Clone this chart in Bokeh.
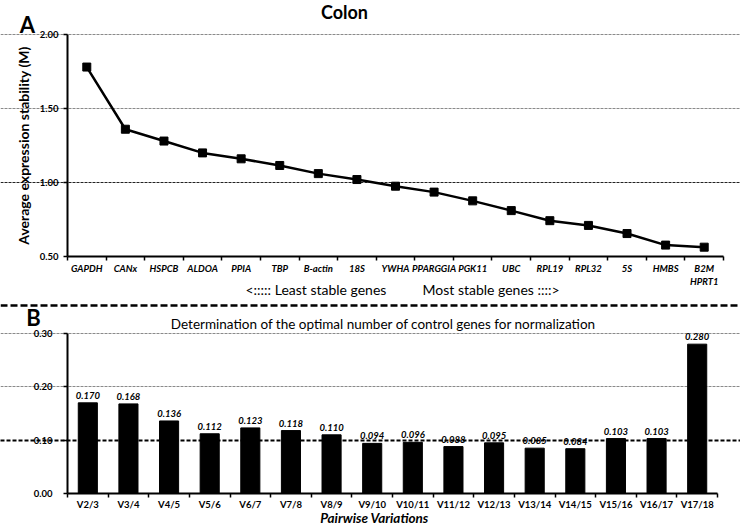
from bokeh.plotting import figure
from bokeh.models import (Range1d, FixedTicker, CustomJSTickFormatter, Span, Label,
                          ColumnDataSource, NumeralTickFormatter, Grid)
from bokeh.layouts import column
from bokeh.core.properties import value
from bokeh.embed import file_html
from bokeh.resources import INLINE

FONT = "Lato"

# ---- data ----
genes = ["GAPDH", "CANx", "HSPCB", "ALDOA", "PPIA", "TBP", "B-actin", "18S", "YWHA",
         "PPARGGIA", "PGK11", "UBC", "RPL19", "RPL32", "5S", "HMBS", "B2M\nHPRT1"]
stability = [1.78, 1.36, 1.28, 1.20, 1.16, 1.115, 1.06, 1.02, 0.975,
             0.935, 0.876, 0.81, 0.742, 0.71, 0.655, 0.577, 0.563]

pairs = ["V2/3", "V3/4", "V4/5", "V5/6", "V6/7", "V7/8", "V8/9", "V9/10", "V10/11",
         "V11/12", "V12/13", "V13/14", "V14/15", "V15/16", "V16/17", "V17/18"]
variation = [0.170, 0.168, 0.136, 0.112, 0.123, 0.118, 0.110, 0.094, 0.096,
             0.088, 0.095, 0.085, 0.084, 0.103, 0.103, 0.280]

top_yticks = [0.5, 1.0, 1.5, 2.0]
bot_yticks = [0.0, 0.1, 0.2, 0.3]

# ---- layout geometry (pixels) ----
W = 740
H1 = 300            # top panel height
H2 = 226            # bottom panel height
AX_LEFT = 67
T_RIGHT, T_TOP, T_BOT = 723, 34, 256
B_RIGHT, B_TOP, B_BOT = 717, 33, 193   # relative to bottom panel top


def style_axes(p, labels, ncat, yfix, xfix, ybounds):
    xa = p.xaxis[0]
    xa.fixed_location = xfix
    xa.bounds = (0, ncat)
    xa.ticker = FixedTicker(ticks=[i + 0.5 for i in range(ncat)],
                            minor_ticks=list(range(ncat + 1)))
    xa.formatter = CustomJSTickFormatter(args=dict(labels=labels),
                                         code="return labels[Math.floor(tick)] || '';")
    xa.major_tick_out = 0
    xa.major_tick_in = 0
    xa.minor_tick_out = 4
    xa.minor_tick_in = 0
    xa.minor_tick_line_color = "black"
    xa.minor_tick_line_width = 1.5
    xa.axis_line_color = "black"
    xa.axis_line_width = 2
    xa.major_label_text_font = FONT
    xa.major_label_text_color = "black"
    ya = p.yaxis[0]
    ya.fixed_location = yfix
    ya.bounds = ybounds
    ya.axis_line_width = 2
    ya.axis_line_color = "black"
    ya.major_tick_out = 4
    ya.major_tick_in = 0
    ya.minor_tick_line_color = None
    ya.major_tick_line_width = 1.5
    ya.major_label_text_font = FONT
    ya.major_label_text_font_style = "bold"
    ya.major_label_text_font_size = "9.5px"
    ya.major_label_text_color = "black"
    ya.formatter = NumeralTickFormatter(format="0.00")
    p.grid.visible = False
    p.outline_line_color = None


def lab(p, x, y, text, size, style="normal", align="center"):
    p.add_layout(Label(x=x, y=y, x_units="screen", y_units="screen", text=text,
                       text_font=FONT, text_font_style=style, text_font_size=size,
                       text_align=align, text_baseline="middle", text_color="black"))


# ---- top panel ----
sx1 = (T_RIGHT - AX_LEFT) / len(genes)
sy1 = (T_BOT - T_TOP) / (top_yticks[-1] - top_yticks[0])
p1 = figure(width=W, height=H1, output_backend="svg", toolbar_location=None,
            x_range=Range1d(-AX_LEFT / sx1, (W - AX_LEFT) / sx1),
            y_range=Range1d(top_yticks[0] - (H1 - T_BOT) / sy1, top_yticks[-1] + T_TOP / sy1),
            min_border=0, min_border_left=0, min_border_right=0,
            min_border_top=0, min_border_bottom=0)
style_axes(p1, genes, len(genes), 0, top_yticks[0], (top_yticks[0], top_yticks[-1]))
ya = p1.yaxis[0]
ya.ticker = FixedTicker(ticks=top_yticks)
ya.major_label_standoff = 5
ya.axis_label = "Average expression stability (M)"
ya.axis_label_text_font = FONT
ya.axis_label_text_font_style = "bold"
ya.axis_label_text_font_size = "14px"
ya.axis_label_text_color = "black"
ya.axis_label_standoff = 5
xa = p1.xaxis[0]
xa.major_label_text_font_style = "bold italic"
xa.major_label_text_font_size = "9.5px"
xa.major_label_standoff = 2

p1.add_layout(Grid(dimension=1, ticker=FixedTicker(ticks=top_yticks[2:]),
                   bounds=(0, len(genes)), grid_line_color="#8a8a8a",
                   grid_line_dash="3 1", grid_line_width=1.2))
p1.add_layout(Grid(dimension=1, ticker=FixedTicker(ticks=[top_yticks[1]]),
                   bounds=(0, len(genes)), grid_line_color="#222222",
                   grid_line_dash="3 1", grid_line_width=1))

src1 = ColumnDataSource(dict(x=[i + 0.5 for i in range(len(genes))], y=stability))
p1.line("x", "y", source=src1, line_width=2.5, line_color="black")
p1.scatter("x", "y", source=src1, marker="square", size=8, fill_color="black",
           line_color="black")

lab(p1, 344, H1 - 11, "Colon", "18px", "bold")
lab(p1, 27, H1 - 24, "A", "22px", "bold")
lab(p1, 245, H1 - 289, "<:::::  Least stable genes", "14px", align="left")
lab(p1, 422, H1 - 289, "Most stable genes ::::>", "14px", align="left")

# ---- bottom panel ----
sx2 = (B_RIGHT - AX_LEFT) / len(pairs)
sy2 = (B_BOT - B_TOP) / (bot_yticks[-1] - bot_yticks[0])
p2 = figure(width=W, height=H2, output_backend="svg", toolbar_location=None,
            x_range=Range1d(-AX_LEFT / sx2, (W - AX_LEFT) / sx2),
            y_range=Range1d(bot_yticks[0] - (H2 - B_BOT) / sy2, bot_yticks[-1] + B_TOP / sy2),
            min_border=0, min_border_left=0, min_border_right=0,
            min_border_top=0, min_border_bottom=0)
style_axes(p2, pairs, len(pairs), 0, 0, (bot_yticks[0], bot_yticks[-1]))
p2.yaxis[0].ticker = FixedTicker(ticks=bot_yticks)
p2.yaxis[0].major_label_standoff = 11
xb = p2.xaxis[0]
xb.major_label_text_font_style = "bold"
xb.major_label_text_font_size = "9.5px"
xb.major_label_standoff = 1

p2.add_layout(Grid(dimension=1, ticker=FixedTicker(ticks=bot_yticks[2:]),
                   bounds=(0, len(pairs)), grid_line_color="#8a8a8a",
                   grid_line_dash="3 1", grid_line_width=1.2))

src2 = ColumnDataSource(dict(x=[i + 0.5 for i in range(len(pairs))], top=variation,
                             lab=[f"{v:.3f}" for v in variation]))
p2.vbar(x="x", top="top", width=0.47, bottom=0, source=src2, fill_color="black",
        line_color="black")
p2.add_layout(Grid(dimension=1, ticker=FixedTicker(ticks=[bot_yticks[1]]),
                   bounds=(0, len(pairs)), grid_line_color="black",
                   grid_line_dash="4 2", grid_line_width=1.8, level="annotation"))
p2.text(x="x", y="top", text="lab", source=src2, text_font=value(FONT),
        text_font_style="bold italic", text_font_size="9.5px", text_align="center",
        text_baseline="bottom", y_offset=-4, text_color="black")

# dashed separator between the panels
p2.add_layout(Span(location=H2 - 5, location_units="screen", dimension="width",
                   line_color="black", line_dash="7 3", line_width=2.5))

lab(p2, 33, H2 - 17, "B", "22px", "bold")
lab(p2, 383, H2 - 23,
    "Determination of the optimal number of control genes for normalization", "13.5px")
lab(p2, 374, H2 - 217, "Pairwise Variations", "13.5px", "bold italic")

layout = column(p1, p2, spacing=0)
open("out.html", "w").write(file_html(layout, INLINE))
